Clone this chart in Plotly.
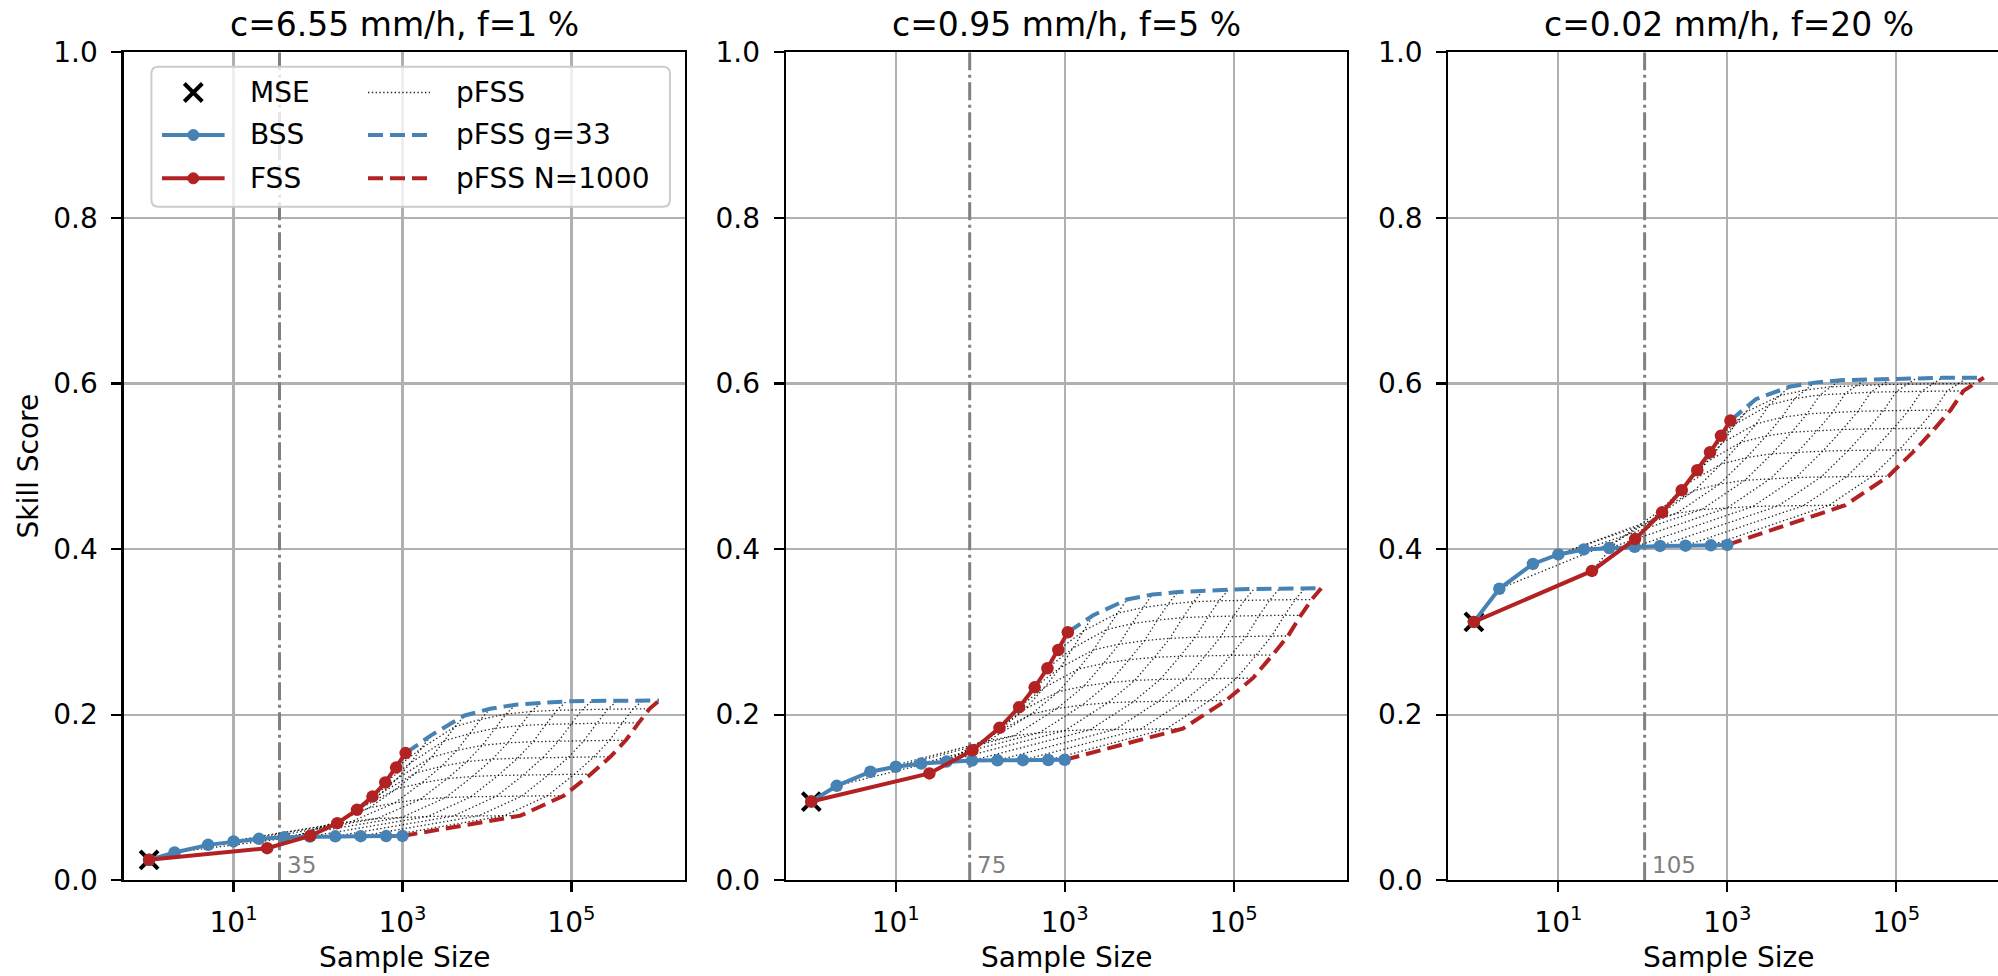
import numpy as np
import plotly.graph_objects as go

W, H = 1998, 976

# ---------------- data ----------------
window_sizes = [1, 5, 9, 13, 17, 21, 25, 29, 33]          # g
pool_sizes = [1, 2, 5, 10, 20, 40, 80, 160, 320, 640, 1000]  # N

titles = ["c=6.55 mm/h, f=1 %", "c=0.95 mm/h, f=5 %", "c=0.02 mm/h, f=20 %"]
scale_lengths = [35, 75, 105]

# pFSS(g, N): rows = window size g, columns = pool size N
# row g=1 is the BSS curve, column N=1 is the FSS curve
pfss_p1 = [
    [0.0246, 0.0335, 0.0427, 0.0468, 0.0500, 0.0520, 0.0528, 0.0530, 0.0532, 0.0533, 0.0535],
    [0.0387, 0.0517, 0.0662, 0.0709, 0.0745, 0.0762, 0.0770, 0.0775, 0.0778, 0.0779, 0.0780],
    [0.0536, 0.0696, 0.0875, 0.0933, 0.0976, 0.0998, 0.1008, 0.1014, 0.1017, 0.1019, 0.1020],
    [0.0689, 0.0884, 0.1103, 0.1174, 0.1227, 0.1253, 0.1265, 0.1272, 0.1277, 0.1279, 0.1280],
    [0.0850, 0.1061, 0.1298, 0.1375, 0.1432, 0.1461, 0.1474, 0.1482, 0.1486, 0.1489, 0.1490],
    [0.1010, 0.1234, 0.1486, 0.1568, 0.1629, 0.1659, 0.1673, 0.1681, 0.1686, 0.1689, 0.1690],
    [0.1180, 0.1418, 0.1684, 0.1770, 0.1835, 0.1868, 0.1882, 0.1891, 0.1896, 0.1899, 0.1900],
    [0.1360, 0.1594, 0.1857, 0.1942, 0.2006, 0.2038, 0.2052, 0.2061, 0.2066, 0.2069, 0.2070],
    [0.1535, 0.1750, 0.1990, 0.2070, 0.2120, 0.2145, 0.2160, 0.2165, 0.2168, 0.2170, 0.2170],
]
pfss_p2 = [
    [0.0950, 0.1140, 0.1310, 0.1370, 0.1410, 0.1433, 0.1445, 0.1448, 0.1450, 0.1452, 0.1454],
    [0.1290, 0.1495, 0.1684, 0.1744, 0.1781, 0.1806, 0.1817, 0.1823, 0.1827, 0.1829, 0.1830],
    [0.1570, 0.1798, 0.2008, 0.2074, 0.2116, 0.2143, 0.2155, 0.2162, 0.2166, 0.2169, 0.2170],
    [0.1840, 0.2068, 0.2278, 0.2344, 0.2386, 0.2413, 0.2425, 0.2432, 0.2436, 0.2439, 0.2440],
    [0.2090, 0.2329, 0.2550, 0.2619, 0.2663, 0.2692, 0.2704, 0.2712, 0.2716, 0.2719, 0.2720],
    [0.2330, 0.2566, 0.2783, 0.2851, 0.2894, 0.2922, 0.2935, 0.2942, 0.2946, 0.2949, 0.2950],
    [0.2560, 0.2803, 0.3027, 0.3098, 0.3142, 0.3171, 0.3184, 0.3192, 0.3196, 0.3199, 0.3200],
    [0.2780, 0.3012, 0.3225, 0.3292, 0.3335, 0.3363, 0.3375, 0.3382, 0.3386, 0.3389, 0.3390],
    [0.2995, 0.3200, 0.3390, 0.3450, 0.3480, 0.3500, 0.3510, 0.3518, 0.3522, 0.3525, 0.3527],
]
pfss_p3 = [
    [0.3120, 0.3520, 0.3820, 0.3935, 0.3995, 0.4013, 0.4028, 0.4038, 0.4041, 0.4045, 0.4050],
    [0.3736, 0.4101, 0.4347, 0.4431, 0.4478, 0.4498, 0.4513, 0.4521, 0.4525, 0.4528, 0.4530],
    [0.4120, 0.4470, 0.4705, 0.4785, 0.4831, 0.4850, 0.4863, 0.4871, 0.4875, 0.4879, 0.4880],
    [0.4443, 0.4791, 0.5026, 0.5105, 0.5151, 0.5170, 0.5183, 0.5191, 0.5196, 0.5199, 0.5200],
    [0.4711, 0.5056, 0.5288, 0.5366, 0.5411, 0.5430, 0.5444, 0.5451, 0.5456, 0.5459, 0.5460],
    [0.4952, 0.5287, 0.5513, 0.5589, 0.5633, 0.5651, 0.5664, 0.5671, 0.5676, 0.5679, 0.5680],
    [0.5169, 0.5510, 0.5740, 0.5817, 0.5862, 0.5880, 0.5894, 0.5901, 0.5906, 0.5909, 0.5910],
    [0.5367, 0.5658, 0.5854, 0.5921, 0.5959, 0.5975, 0.5986, 0.5992, 0.5996, 0.5999, 0.6000],
    [0.5552, 0.5810, 0.5960, 0.6010, 0.6040, 0.6050, 0.6060, 0.6065, 0.6068, 0.6070, 0.6070],
]
tables = [pfss_p1, pfss_p2, pfss_p3]

x_tick_vals = [10, 1000, 100000]
x_tick_text = ["10<sup>1</sup>", "10<sup>3</sup>", "10<sup>5</sup>"]
y_tick_vals = [0.0, 0.2, 0.4, 0.6, 0.8, 1.0]
y_tick_text = ["0.0", "0.2", "0.4", "0.6", "0.8", "1.0"]

# ---------------- style ----------------
BLUE = "#4682B4"
RED = "#B22222"
GRID = "#b0b0b0"
FONT = "DejaVu Sans"
FS = 28
LW = 4

# panel geometry (pixels)
panel_x = [(123.6, 684.6), (785.8, 1346.8), (1448.4, 1998.0)]
ax_top, ax_bot = 52.3, 880.2
decade_px = (684.6 - 123.6) / 6.642
x_lo = -0.302


def px(x):
    return x / W


def py(y):
    return 1 - y / H


fig = go.Figure()

g_arr = np.array(window_sizes, dtype=float)
n_arr = np.array(pool_sizes, dtype=float)

for i in range(3):
    tab = np.array(tables[i])
    ax = "" if i == 0 else str(i + 1)
    xa, ya = "x" + ax, "y" + ax

    # scale line
    L = scale_lengths[i]
    fig.add_trace(go.Scatter(x=[L, L], y=[0, 1], mode="lines", xaxis=xa, yaxis=ya,
                             line=dict(color="#808080", width=3, dash="18px,4.5px,3px,4.5px"),
                             showlegend=False, hoverinfo="skip"))

    # pFSS mesh (dotted)
    mx, my = [], []
    for gi in range(1, len(window_sizes) - 1):
        mx += list(g_arr[gi] ** 2 * n_arr) + [None]
        my += list(tab[gi, :]) + [None]
    for ni in range(1, len(pool_sizes) - 1):
        mx += list(g_arr ** 2 * n_arr[ni]) + [None]
        my += list(tab[:, ni]) + [None]
    fig.add_trace(go.Scatter(x=mx, y=my, mode="lines", xaxis=xa, yaxis=ya,
                             line=dict(color="rgba(0,0,0,0.85)", width=1.3, dash="1.4px,2.4px"),
                             showlegend=False, hoverinfo="skip"))

    # pFSS g=33
    fig.add_trace(go.Scatter(x=g_arr[-1] ** 2 * n_arr, y=tab[-1, :], mode="lines", xaxis=xa, yaxis=ya,
                             line=dict(color=BLUE, width=LW, dash="15px,7px"),
                             showlegend=False, hoverinfo="skip"))
    # pFSS N=1000
    fig.add_trace(go.Scatter(x=g_arr ** 2 * n_arr[-1], y=tab[:, -1], mode="lines", xaxis=xa, yaxis=ya,
                             line=dict(color=RED, width=LW, dash="15px,7px"),
                             showlegend=False, hoverinfo="skip"))
    # MSE
    fig.add_trace(go.Scatter(x=[pool_sizes[0]], y=[tab[0, 0]], mode="markers", xaxis=xa, yaxis=ya,
                             marker=dict(symbol="x-thin", size=18, line=dict(color="black", width=4)),
                             showlegend=False, hoverinfo="skip"))
    # BSS
    fig.add_trace(go.Scatter(x=n_arr, y=tab[0, :], mode="lines+markers", xaxis=xa, yaxis=ya,
                             line=dict(color=BLUE, width=LW), marker=dict(color=BLUE, size=12.5),
                             showlegend=False, hoverinfo="skip"))
    # FSS
    fig.add_trace(go.Scatter(x=g_arr ** 2, y=tab[:, 0], mode="lines+markers", xaxis=xa, yaxis=ya,
                             line=dict(color=RED, width=LW), marker=dict(color=RED, size=12.5),
                             showlegend=False, hoverinfo="skip"))

    x0p, x1p = panel_x[i]
    x_hi = x_lo + (x1p - x0p) / decade_px
    common = dict(showgrid=True, gridcolor=GRID, gridwidth=2.2, zeroline=False,
                  showline=True, linecolor="black", linewidth=2.2,
                  ticks="outside", ticklen=10, tickwidth=2.2, tickcolor="black",
                  tickfont=dict(family=FONT, size=FS, color="black"), automargin=False)
    fig.layout["xaxis" + ax] = dict(common, type="log", range=[x_lo, x_hi],
                                    domain=[px(x0p), px(x1p)], anchor=ya,
                                    tickvals=x_tick_vals, ticktext=x_tick_text,
                                    mirror=True, ticklabelstandoff=6)
    fig.layout["yaxis" + ax] = dict(common, range=[0, 1], domain=[py(ax_bot), py(ax_top)],
                                    anchor=xa, tickvals=y_tick_vals, ticktext=y_tick_text,
                                    mirror=(i < 2), ticklabelstandoff=8)

    cx = (x0p + (x0p + 560.9)) / 2
    fig.add_annotation(x=px(cx), y=py(24), xref="paper", yref="paper", text=titles[i],
                       showarrow=False, xanchor="center", yanchor="middle",
                       font=dict(family=FONT, size=33, color="black"))
    fig.add_annotation(x=px(cx), y=py(957), xref="paper", yref="paper", text="Sample Size",
                       showarrow=False, xanchor="center", yanchor="middle",
                       font=dict(family=FONT, size=FS, color="black"))
    fig.add_annotation(x=np.log10(L), y=0, xref=xa, yref=ya, text=str(L), showarrow=False,
                       xanchor="left", yanchor="bottom", xshift=5, yshift=0,
                       font=dict(family=FONT, size=23, color="#808080"))

fig.add_annotation(x=px(27.5), y=py(466), xref="paper", yref="paper", text="Skill Score",
                   showarrow=False, textangle=-90, xanchor="center", yanchor="middle",
                   font=dict(family=FONT, size=FS, color="black"))

# ---------------- legend (drawn manually, two columns) ----------------
shapes = []


def rounded_rect(x0, y0, x1, y1, r):
    pts = [("M", x0 + r, y0), ("L", x1 - r, y0), ("Q", x1, y0, x1, y0 + r), ("L", x1, y1 - r),
           ("Q", x1, y1, x1 - r, y1), ("L", x0 + r, y1), ("Q", x0, y1, x0, y1 - r),
           ("L", x0, y0 + r), ("Q", x0, y0, x0 + r, y0)]
    s = ""
    for p in pts:
        if p[0] == "Q":
            s += "Q%.5f,%.5f %.5f,%.5f " % (px(p[1]), py(p[2]), px(p[3]), py(p[4]))
        else:
            s += "%s%.5f,%.5f " % (p[0], px(p[1]), py(p[2]))
    return s + "Z"


shapes.append(dict(type="path", path=rounded_rect(151.4, 66.7, 670, 206.7, 7), xref="paper", yref="paper",
                   fillcolor="rgba(255,255,255,0.8)", line=dict(color="#cccccc", width=2), layer="above"))

rows = [92.5, 135.0, 178.3]
c1a, c1b, c1m = 162.0, 224.6, 193.3
c2a, c2b = 368.0, 430.0
# MSE
d = 9
for (xa_, ya_, xb_, yb_) in [(c1m - d, rows[0] - d, c1m + d, rows[0] + d), (c1m - d, rows[0] + d, c1m + d, rows[0] - d)]:
    shapes.append(dict(type="line", x0=px(xa_), y0=py(ya_), x1=px(xb_), y1=py(yb_), xref="paper", yref="paper",
                       line=dict(color="black", width=4), layer="above"))
# BSS / FSS
for r, col in [(rows[1], BLUE), (rows[2], RED)]:
    shapes.append(dict(type="line", x0=px(c1a), y0=py(r), x1=px(c1b), y1=py(r), xref="paper", yref="paper",
                       line=dict(color=col, width=LW), layer="above"))
    shapes.append(dict(type="circle", x0=px(c1m - 5.5), y0=py(r - 5.5), x1=px(c1m + 5.5), y1=py(r + 5.5),
                       xref="paper", yref="paper", fillcolor=col, line=dict(color=col, width=1), layer="above"))
# pFSS dotted, g=33, N=1000
shapes.append(dict(type="line", x0=px(c2a), y0=py(rows[0]), x1=px(c2b), y1=py(rows[0]), xref="paper", yref="paper",
                   line=dict(color="rgba(0,0,0,0.85)", width=1.3, dash="1.4px,2.4px"), layer="above"))
for r, col in [(rows[1], BLUE), (rows[2], RED)]:
    shapes.append(dict(type="line", x0=px(c2a), y0=py(r), x1=px(c2b), y1=py(r), xref="paper", yref="paper",
                       line=dict(color=col, width=LW, dash="15px,7px"), layer="above"))
fig.update_layout(shapes=shapes)

legend_labels = [("MSE", 247.9, rows[0]), ("BSS", 247.9, rows[1]), ("FSS", 247.9, rows[2]),
                 ("pFSS", 454.0, rows[0]), ("pFSS g=33", 454.0, rows[1]), ("pFSS N=1000", 454.0, rows[2])]
for t, x, y in legend_labels:
    fig.add_annotation(x=px(x), y=py(y), xref="paper", yref="paper", text=t, showarrow=False,
                       xanchor="left", yanchor="middle", font=dict(family=FONT, size=FS, color="black"))

fig.update_layout(width=W, height=H, autosize=False, margin=dict(l=0, r=0, t=0, b=0, pad=0),
                  paper_bgcolor="white", plot_bgcolor="white", showlegend=False,
                  font=dict(family=FONT, size=FS, color="black"))

fig.write_html("out.html", config={"displayModeBar": False, "staticPlot": True},
               post_script="document.body.style.margin='0px';document.body.style.padding='0px';"
                           "document.body.style.overflow='hidden';"
                           "document.documentElement.style.overflow='hidden';")
